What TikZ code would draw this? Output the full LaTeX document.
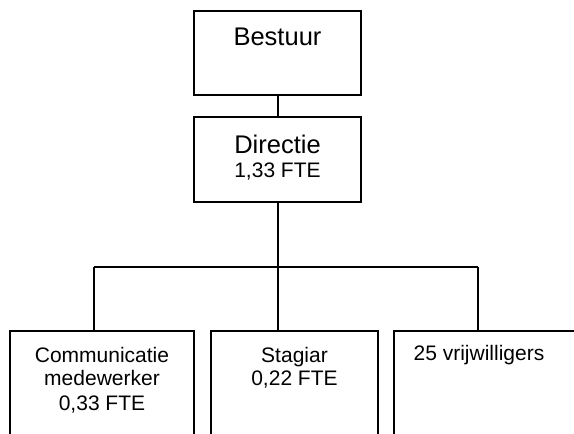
\documentclass[tikz,border=0pt]{standalone}
\usepackage{fontspec}
\setmainfont{Liberation Sans}
\begin{document}
\begin{tikzpicture}[x=1pt,y=-1pt,
  box/.style={draw=black,line width=2pt,rectangle,inner sep=0pt},
  big/.style={anchor=base,inner sep=0pt,font=\fontsize{25.5}{30}\selectfont},
  small/.style={anchor=base,inner sep=0pt,font=\fontsize{21}{24}\selectfont},
  conn/.style={draw=black,line width=2pt}]
\clip (0,0) rectangle (574,434);
\fill[white] (0,0) rectangle (574,434);
% boxes
\node[box,minimum width=167pt,minimum height=84pt] (bes) at (277.5,53) {};
\node[box,minimum width=167pt,minimum height=85pt] (dir) at (277.5,159.5) {};
\node[box,minimum width=184pt,minimum height=140pt] (b1) at (102,401) {};
\node[box,minimum width=167pt,minimum height=140pt] (b2) at (294.5,401) {};
\node[box,minimum width=184pt,minimum height=140pt] (b3) at (486,401) {};
% texts
\node[big] (tbes) at (277.5,45) {Bestuur};
\node[big] (tdir) at (277.5,153) {Directie};
\node[small] (tdir2) at (277.5,177) {1,33 FTE};
\node[small] (t11) at (102,362) {Communicatie};
\node[small] (t12) at (102,385) {medewerker};
\node[small] (t13) at (102,410) {0,33 FTE};
\node[small] (t21) at (294.5,362) {Stagiar};
\node[small] (t22) at (294.5,385) {0,22 FTE};
\node[small] (t31) at (479,360) {25 vrijwilligers};
% connectors
\coordinate (busL) at (94,267);
\coordinate (busR) at (478,267);
\draw[conn] (bes.south) -- (dir.north);
\draw[conn] (busL) -- (busR);
\draw[conn] (dir.south) -- (dir.south |- b2.north);
\draw[conn] (busL) -- (busL |- b1.north);
\draw[conn] (busR) -- (busR |- b3.north);
\end{tikzpicture}
\end{document}
